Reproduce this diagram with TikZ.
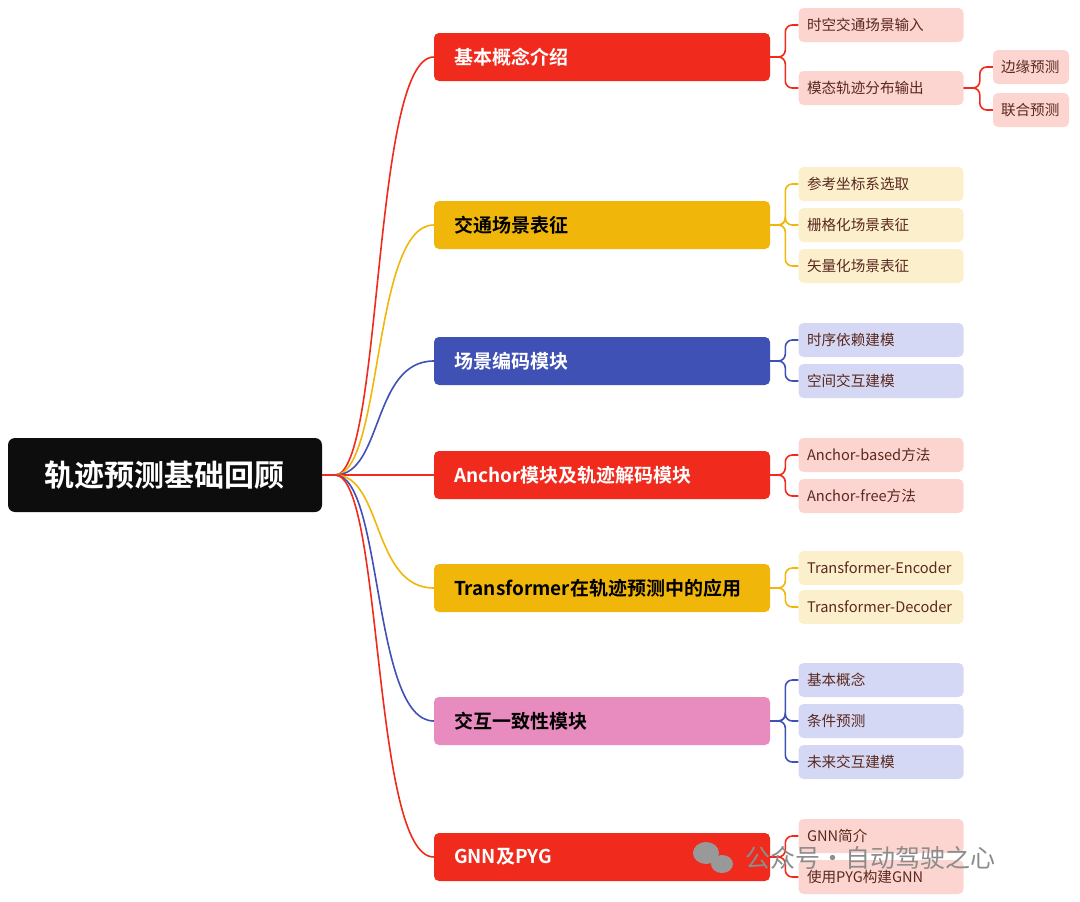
\documentclass[tikz,border=0pt]{standalone}
\usetikzlibrary{calc}
\usepackage{fontspec}
\setmainfont{Noto Sans CJK SC}[BoldFont={Noto Sans CJK SC Bold}]
\definecolor{cred}{RGB}{240,42,28}
\definecolor{cyel}{RGB}{240,183,10}
\definecolor{cblu}{RGB}{63,81,181}
\definecolor{cpnk}{RGB}{232,139,190}
\definecolor{lred}{RGB}{253,213,208}
\definecolor{lyel}{RGB}{252,240,204}
\definecolor{lblu}{RGB}{213,216,245}
\definecolor{ltxt}{RGB}{90,40,30}
\begin{document}
\begin{tikzpicture}[x=1pt,y=-1pt,
 lvone/.style={rounded corners=5pt,minimum width=336pt,minimum height=48pt,text width=296pt,align=left,font=\fontsize{19}{22}\selectfont\bfseries,inner sep=0pt},
 leaf/.style={rounded corners=5pt,minimum width=165pt,minimum height=34pt,text width=158pt,align=left,font=\fontsize{14.6}{18}\selectfont,inner sep=0pt,text=ltxt,execute at begin node=\hspace*{5pt}},
 leafs/.style={leaf,minimum width=76pt,text width=70pt},
 br/.style={line width=1.6pt,rounded corners=7pt},
 rt/.style={line width=1.6pt}]
\useasboundingbox (0,0) rectangle (1080,902);
\node[fill=black!95,rounded corners=7pt,minimum width=314pt,minimum height=74pt,text=white,font=\fontsize{30}{34}\selectfont\bfseries] (root) at (165,475) {轨迹预测基础回顾};
\coordinate (ro) at (335,475);
\draw[rt,cred] (root.east) -- (ro);
% level 1
\node[lvone,fill=cred,text=white] (a) at (602,57) {基本概念介绍};
\node[lvone,fill=cyel,text=black] (b) at (602,225) {交通场景表征};
\node[lvone,fill=cblu,text=white] (c) at (602,361) {场景编码模块};
\node[lvone,fill=cred,text=white] (d) at (602,475) {Anchor模块及轨迹解码模块};
\node[lvone,fill=cyel,text=black] (e) at (602,588) {Transformer在轨迹预测中的应用};
\node[lvone,fill=cpnk,text=black] (f) at (602,721) {交互一致性模块};
\node[lvone,fill=cred,text=white] (g) at (602,857) {GNN及PYG};
\foreach \n/\c in {a/cred,b/cyel,c/cblu,d/cred,e/cyel,f/cblu,g/cred}
  \draw[rt,\c] (ro) .. controls ($(ro)+(48,0)$) and ($(\n.west)+(-62,0)$) .. (\n.west);
% leaves
\node[leaf,fill=lred] (a1) at (881,25) {时空交通场景输入};
\node[leaf,fill=lred] (a2) at (881,88) {模态轨迹分布输出};
\node[leafs,fill=lred] (a21) at (1031,67) {边缘预测};
\node[leafs,fill=lred] (a22) at (1031,110) {联合预测};
\node[leaf,fill=lyel] (b1) at (881,184) {参考坐标系选取};
\node[leaf,fill=lyel] (b2) at (881,225) {栅格化场景表征};
\node[leaf,fill=lyel] (b3) at (881,266) {矢量化场景表征};
\node[leaf,fill=lblu] (c1) at (881,340) {时序依赖建模};
\node[leaf,fill=lblu] (c2) at (881,381) {空间交互建模};
\node[leaf,fill=lred] (d1) at (881,455) {Anchor-based方法};
\node[leaf,fill=lred] (d2) at (881,496) {Anchor-free方法};
\node[leaf,fill=lyel] (e1) at (881,568) {Transformer-Encoder};
\node[leaf,fill=lyel] (e2) at (881,607) {Transformer-Decoder};
\node[leaf,fill=lblu] (f1) at (881,680) {基本概念};
\node[leaf,fill=lblu] (f2) at (881,721) {条件预测};
\node[leaf,fill=lblu] (f3) at (881,762) {未来交互建模};
\node[leaf,fill=lred] (g1) at (881,836) {GNN简介};
\node[leaf,fill=lred] (g2) at (881,877) {使用PYG构建GNN};
\foreach \p/\l/\c in {a/a1/cred,a/a2/cred,b/b1/cyel,b/b2/cyel,b/b3/cyel,c/c1/cblu,c/c2/cblu,d/d1/cred,d/d2/cred,e/e1/cyel,e/e2/cyel,f/f1/cblu,f/f2/cblu,f/f3/cblu,g/g1/cred,g/g2/cred}
  \draw[br,\c] (\p.east) -| ($(\l.west)+(-13,0)$) -- (\l.west);
\draw[br,cred] (a2.east) -| ($(a21.west)+(-13,0)$) -- (a21.west);
\draw[br,cred] (a2.east) -| ($(a22.west)+(-13,0)$) -- (a22.west);
% watermark
\node[text=black!45,font=\fontsize{25}{30}\selectfont,anchor=west,inner sep=0pt] (wm) at (745,858) {公众号·自动驾驶之心};
\fill[black!40] (706,853) ellipse (13pt and 11pt);
\fill[black!40] (722,864) ellipse (11pt and 9pt);
\end{tikzpicture}
\end{document}
